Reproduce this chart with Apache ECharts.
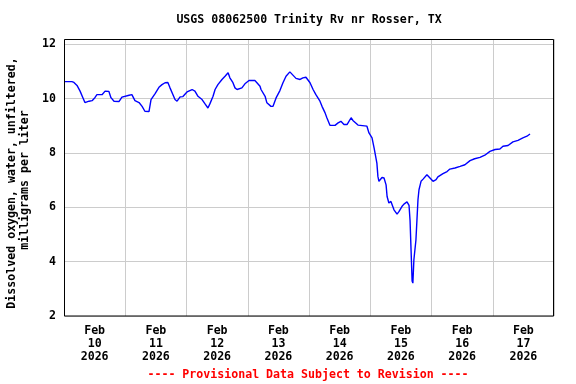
<!DOCTYPE html>
<html><head><meta charset="utf-8">
<script src="https://cdn.jsdelivr.net/npm/echarts@6/dist/echarts.min.js"></script>
<style>html,body{margin:0;padding:0;background:#fff}#c{width:576px;height:384px}</style>
</head><body><div id="c"></div>
<script>
// hours since Feb 10 2026 00:00
var hours = [0,3.1,3.9,5.1,6.3,7.4,8.2,9.8,11.0,12.1,12.9,14.9,16.1,17.6,18.4,19.6,21.6,22.7,25.5,26.6,27.8,29.4,30.6,31.7,33.3,34.1,35.7,37.2,38.4,39.6,40.7,41.5,42.7,43.5,44.3,45.5,46.6,48.2,50.2,51.3,52.5,54.1,55.2,56.4,57.2,58.4,59.2,60.3,61.9,63.1,64.3,65.0,66.2,67.0,67.8,69.7,70.9,72.5,74.8,75.6,76.8,77.2,78.8,79.5,81.1,81.9,83.1,84.6,85.8,87.0,88.5,89.7,90.9,92.5,93.6,94.8,96.4,97.6,98.7,100.3,101.1,102.3,103.0,104.2,106.2,107.4,108.5,109.7,110.9,112.5,113.2,115.2,118.7,119.5,120.7,121.5,122.6,123.0,123.4,124.6,125.4,126.2,126.6,127.3,128.1,128.5,129.3,130.5,131.3,132.4,133.2,134.4,135.2,135.6,136.0,136.4,136.7,137.1,137.9,138.3,138.7,139.1,139.9,140.7,142.2,143.4,144.6,145.8,146.5,148.5,150.1,151.2,153.2,155.2,157.1,159.1,160.9,163.0,164.9,166.9,168.9,170.8,172.0,174.0,175.9,177.9,179.8,181.4,182.6];
var oxygen = [10.63,10.63,10.60,10.49,10.28,10.04,9.86,9.91,9.93,10.04,10.15,10.15,10.28,10.27,10.04,9.91,9.90,10.06,10.13,10.15,9.93,9.86,9.72,9.54,9.53,9.97,10.19,10.42,10.52,10.59,10.60,10.41,10.15,9.97,9.91,10.07,10.08,10.25,10.34,10.28,10.09,9.97,9.82,9.66,9.82,10.09,10.34,10.52,10.71,10.83,10.96,10.77,10.59,10.40,10.34,10.40,10.55,10.67,10.67,10.59,10.46,10.34,10.09,9.85,9.72,9.72,10.03,10.30,10.59,10.83,10.99,10.87,10.75,10.71,10.77,10.79,10.59,10.34,10.15,9.91,9.72,9.48,9.30,9.02,9.02,9.11,9.17,9.05,9.05,9.30,9.20,9.03,8.99,8.74,8.56,8.19,7.63,7.14,6.96,7.10,7.08,6.83,6.40,6.16,6.22,6.28,5.91,5.75,5.85,6.03,6.12,6.20,6.07,5.51,4.40,3.29,3.21,4.07,4.80,5.54,6.28,6.65,6.96,7.04,7.20,7.08,6.96,7.02,7.12,7.24,7.32,7.41,7.45,7.51,7.57,7.72,7.79,7.84,7.92,8.06,8.13,8.15,8.25,8.28,8.41,8.47,8.56,8.62,8.70];
var dayLabels = ["Feb\n10\n2026","Feb\n11\n2026","Feb\n12\n2026","Feb\n13\n2026","Feb\n14\n2026","Feb\n15\n2026","Feb\n16\n2026","Feb\n17\n2026"];
var yTicks = [2,4,6,8,10,12];

var FONT = '"DejaVu Sans Mono", "Liberation Mono", monospace';
var FS = 11.6;
var chart = echarts.init(document.getElementById('c'), null, {renderer:'canvas'});
var pts = hours.map(function(h,i){return [h, oxygen[i]];});
chart.setOption({
  animation:false,
  backgroundColor:'#fff',
  grid:{left:64,right:22,top:39,bottom:68,show:false},
  xAxis:[{
    type:'value',min:0,max:192,interval:24,
    axisLine:{show:false},axisTick:{show:false},axisLabel:{show:false},
    splitLine:{show:true,lineStyle:{color:'#cccccc',width:1}}
  },{
    type:'category',data:dayLabels,boundaryGap:true,position:'bottom',
    axisLine:{show:false},axisTick:{show:false},splitLine:{show:false},
    axisLabel:{color:'#000',fontFamily:FONT,fontWeight:'bold',fontSize:FS,lineHeight:12.7,margin:9,interval:0}
  }],
  yAxis:{
    type:'value',min:2,max:12.2,interval:2,
    axisLine:{show:false},axisTick:{show:false},
    axisLabel:{color:'#000',fontFamily:FONT,fontWeight:'bold',fontSize:FS,margin:8,
      formatter:function(v){return yTicks.indexOf(v)>=0?String(v):'';}},
    splitLine:{show:true,lineStyle:{color:'#cccccc',width:1}}
  },
  series:[{type:'line',xAxisIndex:0,data:pts,showSymbol:false,
    lineStyle:{color:'#0000ff',width:1.4},itemStyle:{color:'#0000ff'}}],
  graphic:[
    {type:'rect',z:100,shape:{x:64.5,y:39.5,width:489,height:276.5},style:{fill:'none',stroke:'#000',lineWidth:1}},
    {type:'text',x:309,y:20,style:{text:'USGS 08062500 Trinity Rv nr Rosser, TX',font:'bold '+FS+'px '+FONT,fill:'#000',align:'center',verticalAlign:'middle'}},
    {type:'text',x:12,y:183,rotation:Math.PI/2,style:{text:'Dissolved oxygen, water, unfiltered,',font:'bold '+FS+'px '+FONT,fill:'#000',align:'center',verticalAlign:'middle'}},
    {type:'text',x:25,y:180,rotation:Math.PI/2,style:{text:'milligrams per liter',font:'bold '+FS+'px '+FONT,fill:'#000',align:'center',verticalAlign:'middle'}},
    {type:'text',x:308,y:375,style:{text:'---- Provisional Data Subject to Revision ----',font:'bold '+FS+'px '+FONT,fill:'#ff0000',align:'center',verticalAlign:'middle'}}
  ]
});
</script></body></html>
